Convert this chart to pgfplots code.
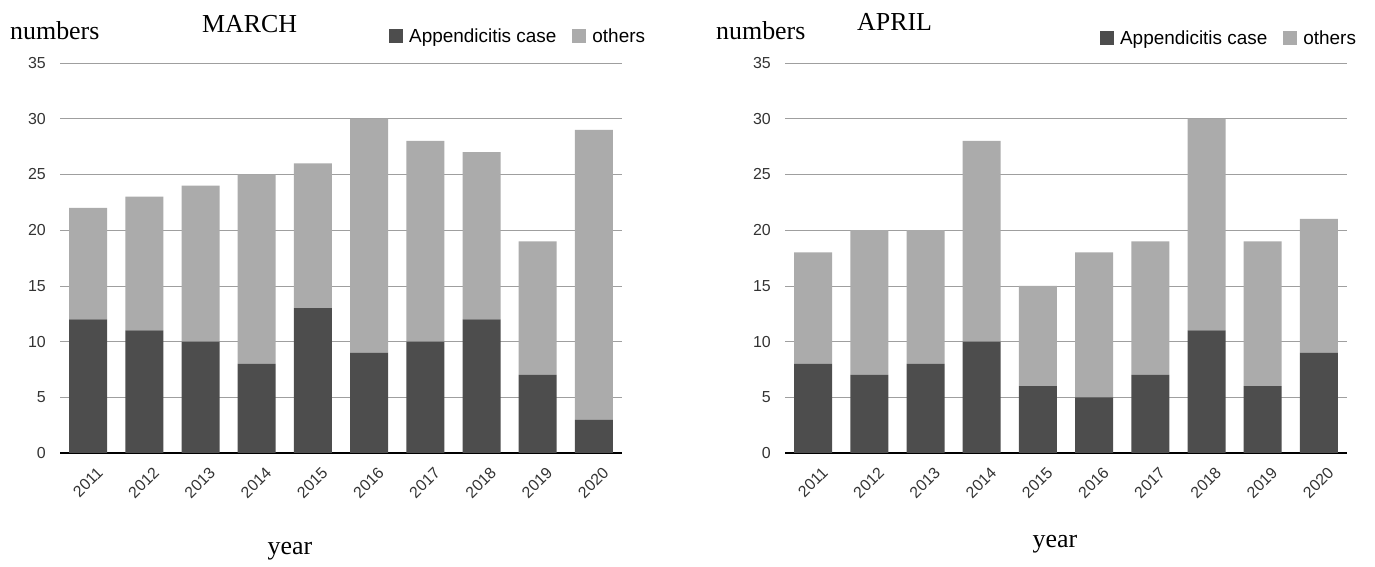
\documentclass[border=0pt]{standalone}
\usepackage{pgfplots}
\pgfplotsset{compat=1.18}
\usepackage{fontspec}
\setmainfont{Liberation Serif}
\newfontfamily\sans{Liberation Sans}
\definecolor{dark}{HTML}{4D4D4D}
\definecolor{light}{HTML}{ABABAB}
\pgfplotstableread{
x app oth
0 12 10
1 11 12
2 10 14
3 8 17
4 13 13
5 9 21
6 10 18
7 12 15
8 7 12
9 3 26
}\march
\pgfplotstableread{
x app oth
0 8 10
1 7 13
2 8 12
3 10 18
4 6 9
5 5 13
6 7 12
7 11 19
8 6 13
9 9 12
}\april
\pgfplotsset{
  mystyle/.style={
    scale only axis, height=390bp,
    ybar stacked, bar width=38bp,
    xmin=-0.5, xmax=9.5, ymin=0, ymax=35,
    ytick={0,5,...,35}, xtick={0,...,9},
    xticklabels={2011,2012,2013,2014,2015,2016,2017,2018,2019,2020},
    ymajorgrids, grid style={gray!75, line width=0.7bp},
    axis x line*=bottom, axis y line*=left,
    y axis line style={draw=none},
    x axis line style={black, line width=1.2bp, -},
    major tick length=0pt,
    /pgf/number format/assume math mode=true,
    tick label style={font=\sans\fontsize{16}{16}\selectfont, text=black!80},
    yticklabel style={inner sep=0pt, xshift=-14bp},
    xticklabel style={xshift=12bp, yshift=-17bp, rotate=45, anchor=east, inner sep=0pt},
    legend columns=2,
    legend style={draw=none, fill=none, font=\sans\fontsize{19}{19}\selectfont, anchor=west,
      /tikz/every odd column/.append style={column sep=4bp},
      /tikz/every even column/.append style={column sep=14bp}},
    legend image code/.code={\fill[##1] (0bp,-7bp) rectangle (14bp,7bp);},
  }
}
\begin{document}
\begin{tikzpicture}[x=1bp,y=1bp]
\useasboundingbox (0,0) rectangle (1375,567);
\begin{axis}[mystyle, width=562bp, at={(60bp,114bp)}, anchor=south west,
  legend style={at={(0.58,1.069)}}]
\addplot[fill=dark, draw=none] table[x=x,y=app]{\march};
\addplot[fill=light, draw=none] table[x=x,y=oth]{\march};
\legend{Appendicitis case, others}
\end{axis}
\begin{axis}[mystyle, width=562bp, at={(785bp,114bp)}, anchor=south west,
  legend style={at={(0.555,1.064)}}]
\addplot[fill=dark, draw=none] table[x=x,y=app]{\april};
\addplot[fill=light, draw=none] table[x=x,y=oth]{\april};
\legend{Appendicitis case, others}
\end{axis}
\node[anchor=base west, inner sep=0pt, font=\fontsize{26}{26}\selectfont] at (10,527) {numbers};
\node[anchor=base west, inner sep=0pt, font=\fontsize{26}{26}\selectfont] at (202,534) {MARCH};
\node[anchor=base, inner sep=0pt, font=\fontsize{26}{26}\selectfont] at (290,12) {year};
\node[anchor=base west, inner sep=0pt, font=\fontsize{26}{26}\selectfont] at (716,527) {numbers};
\node[anchor=base west, inner sep=0pt, font=\fontsize{26}{26}\selectfont] at (857,536) {APRIL};
\node[anchor=base, inner sep=0pt, font=\fontsize{26}{26}\selectfont] at (1055,19) {year};
\end{tikzpicture}
\end{document}
